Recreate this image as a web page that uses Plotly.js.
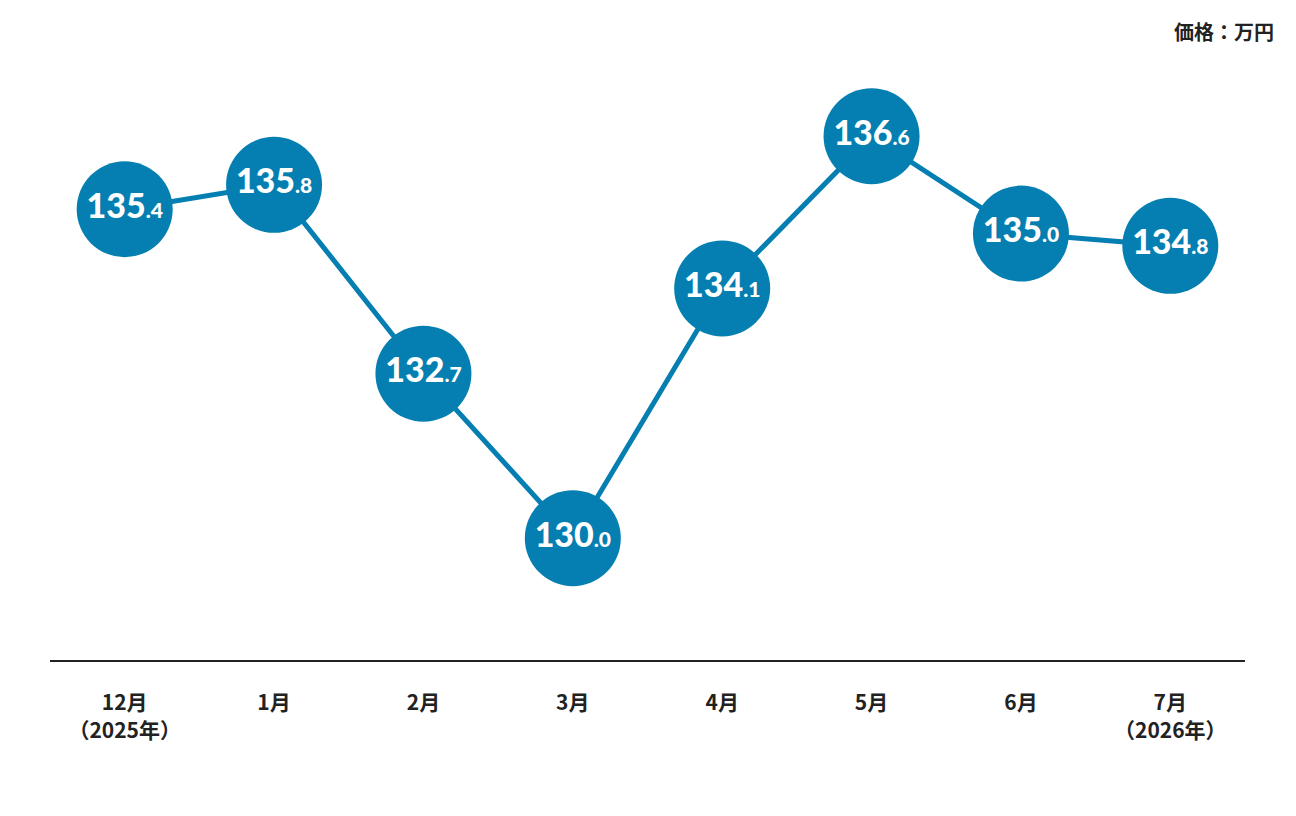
<!DOCTYPE html>
<html>
<head>
<meta charset="utf-8">
<script src="https://cdn.plot.ly/plotly-3.0.1.min.js"></script>
<style>
  html, body { margin: 0; padding: 0; background: #fff; }
  #chart { width: 1296px; height: 816px; }
</style>
</head>
<body>
<div id="chart"></div>
<script>
// months shown on the x axis
var months = ["12月<br>（2025年）", "1月", "2月", "3月", "4月", "5月", "6月", "7月<br>（2026年）"];
// price, 万円
var prices = [135.4, 135.8, 132.7, 130.0, 134.1, 136.6, 135.0, 134.8];

var idx = months.map(function (m, i) { return i; });

// big integer part, smaller decimal part
var labels = prices.map(function (p) {
    var s = p.toFixed(1).split(".");
    return s[0] + "<span style='font-size:21px'>." + s[1] + "</span>";
});

var blue = "#057fb1";

var trace = {
    x: idx,
    y: prices,
    type: "scatter",
    mode: "lines+markers+text",
    line: { color: blue, width: 5 },
    marker: { size: 96, color: blue, line: { width: 0 } },
    text: labels,
    textposition: "middle center",
    textfont: { family: "Lato, 'Noto Sans', sans-serif", size: 34, weight: 900, color: "#ffffff" },
    hoverinfo: "skip",
    cliponaxis: false,
};

var layout = {
    width: 1296,
    height: 816,
    margin: { l: 50, r: 51, t: 60, b: 156 },
    paper_bgcolor: "#ffffff",
    plot_bgcolor: "#ffffff",
    showlegend: false,
    font: { family: "'Noto Sans CJK JP', 'Noto Sans', sans-serif", color: "#222222" },
    xaxis: {
        range: [-0.5, 7.5],
        tickmode: "array",
        tickvals: idx,
        ticktext: months,
        ticks: "",
        showgrid: false,
        zeroline: false,
        showline: true,
        linecolor: "#222222",
        linewidth: 2,
        ticklabelstandoff: 23,
        tickfont: { size: 21, weight: "bold", color: "#222222" },
        fixedrange: true,
    },
    yaxis: {
        range: [128.0, 137.85],
        visible: false,
        fixedrange: true,
    },
    annotations: [
        {
            text: "<b>価格：万円</b>",
            xref: "paper",
            yref: "paper",
            x: 1.026,
            y: 1.048,
            xanchor: "right",
            yanchor: "middle",
            showarrow: false,
            font: { size: 20, color: "#222222" },
        },
    ],
};

Plotly.newPlot("chart", [trace], layout, { displayModeBar: false, staticPlot: true });
</script>
</body>
</html>
